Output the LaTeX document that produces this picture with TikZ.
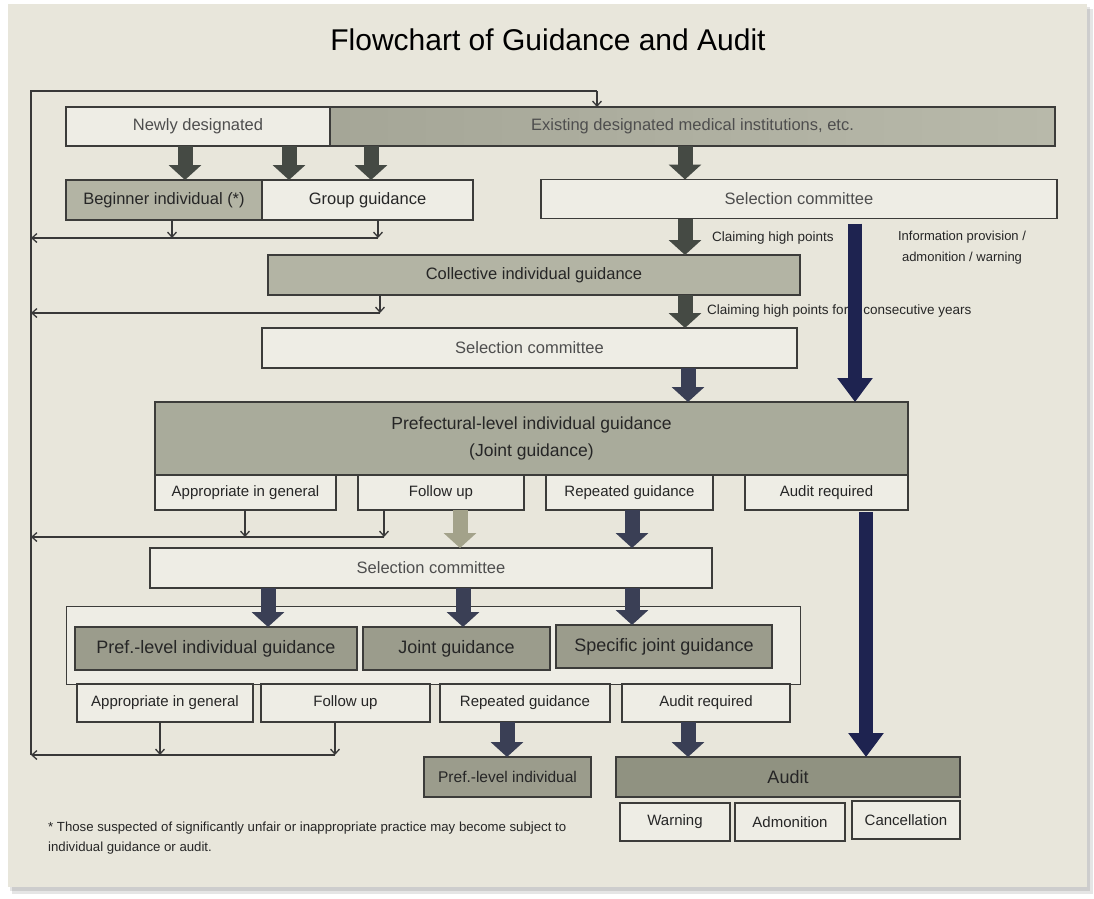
\documentclass[tikz,border=0pt]{standalone}
\usepackage{fontspec}
\setmainfont{Liberation Sans}
\usetikzlibrary{arrows.meta}

\definecolor{paper}{HTML}{E8E6DB}
\definecolor{lightfill}{HTML}{EEEDE5}
\definecolor{midfill}{HTML}{B3B4A4}
\definecolor{midleft}{HTML}{A5A697}
\definecolor{midright}{HTML}{B8B9AA}
\definecolor{preffill}{HTML}{A9AB9B}
\definecolor{darkfill}{HTML}{9B9C8C}
\definecolor{auditfill}{HTML}{909281}
\definecolor{boxline}{HTML}{3C3C3A}
\definecolor{inkdark}{HTML}{262626}
\definecolor{inkgray}{HTML}{4E4E4E}
\definecolor{arrowdark}{HTML}{454A44}
\definecolor{arrowslate}{HTML}{3A3F55}
\definecolor{navy}{HTML}{1E2350}
\definecolor{arrowlight}{HTML}{A3A28A}
\definecolor{fbline}{HTML}{383838}

\tikzset{
  box/.style={draw=boxline, line width=1.1pt, inner sep=0pt, outer sep=0pt,
    text=inkdark, font=\fontsize{16.5}{19}\selectfont},
  lightbox/.style={box, fill=lightfill},
  midbox/.style={box, fill=midfill},
  prefbox/.style={box, fill=preffill, font=\fontsize{17.5}{27}\selectfont, align=center},
  darkbox/.style={box, fill=darkfill, font=\fontsize{18}{20}\selectfont},
  subbox/.style={lightbox, font=\fontsize{15}{17}\selectfont},
  fat/.style={line width=15pt, draw=arrowdark, -{Triangle[width=32pt,length=15pt]}},
  fatslate/.style={fat, draw=arrowslate},
  fatlight/.style={fat, draw=arrowlight},
  navyline/.style={line width=14pt, draw=navy, -{Triangle[width=34pt,length=24pt]}},
  fb/.style={draw=fbline, line width=1.3pt},
  fbarrow/.style={fb, -{Straight Barb[length=5pt,width=9pt]}},
  note/.style={text=inkdark, inner sep=0pt, font=\fontsize{13.5}{16}\selectfont},
}

\begin{document}
\begin{tikzpicture}[x=1pt,y=-1pt]
  \useasboundingbox (0,0) rectangle (1094,898);
  % sheet of paper with a soft shadow
  \fill[white] (0,0) rectangle (1094,898);
  \fill[black, opacity=0.10] (12,9) rectangle (1093,894);
  \fill[black, opacity=0.10] (10,7) rectangle (1090,891);
  \fill[paper] (8,4) rectangle (1087,887);

  % title
  \node[inner sep=0pt, text=black, font=\fontsize{30}{34}\selectfont] (title) at (548,40)
    {Flowchart of Guidance and Audit};

  % top row
  \node[lightbox, text=inkgray, minimum width=264pt, minimum height=39pt] (newly) at (198,126.5) {Newly designated};
  \node[box, left color=midleft, right color=midright, text=inkgray, minimum width=725pt, minimum height=39pt] (existing) at (692.5,126.5) {Existing designated medical institutions, etc.};

  % second row
  \node[midbox, minimum width=196pt, minimum height=40pt] (beginner) at (164,200) {Beginner individual (*)};
  \node[lightbox, minimum width=211pt, minimum height=40pt] (group) at (367.5,200) {Group guidance};
  \node[lightbox, text=inkgray, minimum width=516pt, minimum height=39pt] (sel1) at (799,199) {Selection committee};

  % collective guidance and second committee
  \node[midbox, minimum width=532pt, minimum height=40pt] (collective) at (534,275) {Collective individual guidance};
  \node[lightbox, text=inkgray, minimum width=535pt, minimum height=40pt] (sel2) at (529.5,348) {Selection committee};

  % prefectural-level guidance and its outcomes
  \node[prefbox, minimum width=753pt, minimum height=73pt] (pref) at (531.5,438.5)
    {Prefectural-level individual guidance\\(Joint guidance)};
  \node[subbox, minimum width=181pt, minimum height=35pt] (appr1) at (245.5,492.5) {Appropriate in general};
  \node[subbox, minimum width=166pt, minimum height=35pt] (follow1) at (441,492.5) {Follow up};
  \node[subbox, minimum width=167pt, minimum height=35pt] (repeat1) at (629.5,492.5) {Repeated guidance};
  \node[subbox, minimum width=163pt, minimum height=35pt] (auditreq1) at (826.5,492.5) {Audit required};

  % third committee
  \node[lightbox, text=inkgray, minimum width=562pt, minimum height=40pt] (sel3) at (431,568) {Selection committee};

  % group frame with the three kinds of guidance
  \node[draw=boxline, line width=1pt, fill=lightfill, minimum width=734pt, minimum height=78pt,
        inner sep=0pt, outer sep=0pt] (frame) at (433,645) {};
  \node[darkbox, minimum width=282pt, minimum height=43pt] (prefind) at (216,648.5) {Pref.-level individual guidance};
  \node[darkbox, minimum width=187pt, minimum height=43pt] (joint) at (456.5,648.5) {Joint guidance};
  \node[darkbox, minimum width=216pt, minimum height=43pt] (specific) at (664,646.5) {Specific joint guidance};

  \node[subbox, minimum width=176pt, minimum height=38pt] (appr2) at (165,703) {Appropriate in general};
  \node[subbox, minimum width=169pt, minimum height=38pt] (follow2) at (345.5,703) {Follow up};
  \node[subbox, minimum width=170pt, minimum height=38pt] (repeat2) at (525,703) {Repeated guidance};
  \node[subbox, minimum width=168pt, minimum height=38pt] (auditreq2) at (706,703) {Audit required};

  % final outcomes
  \node[darkbox, font=\fontsize{15.5}{18}\selectfont, minimum width=167pt, minimum height=40pt] (prefind2) at (507.5,777) {Pref.-level individual};
  \node[box, fill=auditfill, font=\fontsize{18}{20}\selectfont, minimum width=344pt, minimum height=40pt] (audit) at (788,777) {Audit};
  \node[subbox, minimum width=110pt, minimum height=38pt] (warning) at (675,822) {Warning};
  \node[subbox, minimum width=110pt, minimum height=38pt] (admon) at (790,822) {Admonition};
  \node[subbox, minimum width=108pt, minimum height=38pt] (cancel) at (906,820) {Cancellation};

  % column positions of the connectors
  \coordinate (k185) at (185,0);
  \coordinate (k289) at (289,0);
  \coordinate (k371) at (371,0);
  \coordinate (k685) at (685,0);
  \coordinate (k688) at (688,0);
  \coordinate (k855) at (855,0);
  \coordinate (k866) at (866,0);
  \coordinate (k460) at (460,0);
  \coordinate (k632) at (632,0);
  \coordinate (k268) at (268,0);
  \coordinate (k463) at (463,0);
  \coordinate (k507) at (507,0);

  % block arrows between stages
  \draw[fat] (newly.south -| k185) -- (beginner.north -| k185);
  \draw[fat] (newly.south -| k289) -- (group.north -| k289);
  \draw[fat] (existing.south -| k371) -- (group.north -| k371);
  \draw[fat] (existing.south -| k685) -- (sel1.north -| k685);
  \draw[fat] (sel1.south -| k685) -- (collective.north -| k685);
  \draw[fat] (collective.south -| k685) -- (sel2.north -| k685);
  \draw[fatslate] (sel2.south -| k688) -- (pref.north -| k688);
  \draw[fatlight] (follow1.south -| k460) -- (sel3.north -| k460);
  \draw[fatslate] (repeat1.south -| k632) -- (sel3.north -| k632);
  \draw[fatslate] (sel3.south -| k268) -- (prefind.north -| k268);
  \draw[fatslate] (sel3.south -| k463) -- (joint.north -| k463);
  \draw[fatslate] (sel3.south -| k632) -- (specific.north -| k632);
  \draw[fatslate] (repeat2.south -| k507) -- (prefind2.north -| k507);
  \draw[fatslate] (auditreq2.south -| k688) -- (audit.north -| k688);

  % labels beside the arrows
  \node[note, anchor=west] (lbl1) at (712,238) {Claiming high points};
  \node[note, anchor=west] (lbl2) at (707,311) {Claiming high points for 2 consecutive years};
  \node[note, align=center, font=\fontsize{13}{21}\selectfont] (lbl3) at (962,248)
    {Information provision /\\admonition / warning};

  % direct routes to joint guidance and to audit
  \draw[navyline] ([yshift=-5pt]sel1.south -| k855) -- (pref.north -| k855);
  \draw[navyline] ([yshift=-2pt]auditreq1.south -| k866) -- (audit.north -| k866);

  % return path to the top
  \coordinate (fbTop) at (31,91);
  \coordinate (fbBot) at (31,755);
  \coordinate (fbIn) at (597,91);
  \draw[fb] (fbBot) -- (fbTop) -- (fbIn);
  \draw[fbarrow] (fbIn) -- (existing.north -| fbIn);

  \coordinate (r1a) at (172,238);
  \coordinate (r1b) at (378,238);
  \coordinate (r1l) at (31,238);
  \draw[fbarrow] (beginner.south -| r1a) -- (r1a);
  \draw[fbarrow] (group.south -| r1b) -- (r1b);
  \draw[fbarrow] (r1b) -- (r1l);

  \coordinate (r2a) at (380,313);
  \coordinate (r2l) at (31,313);
  \draw[fbarrow] (collective.south -| r2a) -- (r2a);
  \draw[fbarrow] (r2a) -- (r2l);

  \coordinate (r3a) at (245,537);
  \coordinate (r3b) at (384,537);
  \coordinate (r3l) at (31,537);
  \draw[fbarrow] (appr1.south -| r3a) -- (r3a);
  \draw[fbarrow] (follow1.south -| r3b) -- (r3b);
  \draw[fbarrow] (r3b) -- (r3l);

  \coordinate (r4a) at (160,755);
  \coordinate (r4b) at (335,755);
  \draw[fbarrow] (appr2.south -| r4a) -- (r4a);
  \draw[fbarrow] (follow2.south -| r4b) -- (r4b);
  \draw[fbarrow] (r4b) -- (fbBot);

  % footnote
  \node[note, anchor=north west, align=left, font=\fontsize{13.2}{20}\selectfont] (foot) at (48,822)
    {* Those suspected of significantly unfair or inappropriate practice may become subject to\\individual guidance or audit.};
\end{tikzpicture}
\end{document}
